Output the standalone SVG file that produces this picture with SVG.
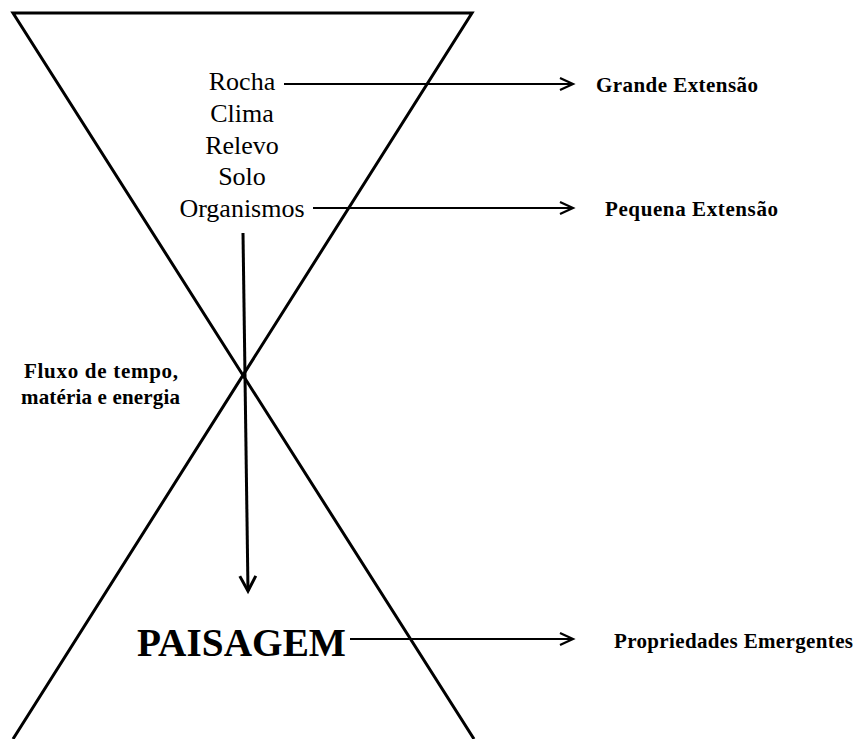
<svg xmlns="http://www.w3.org/2000/svg" width="856" height="739" viewBox="0 0 856 739">
<style>
.tri{stroke:#000;stroke-width:3;fill:none;stroke-linejoin:miter}
.arr{stroke:#000;stroke-width:2;fill:none}
.varr{stroke:#000;stroke-width:3;fill:none}
.t{font-family:"Liberation Serif","Times New Roman",serif;fill:#000}
.lst{font-size:26px;text-anchor:middle}
.lab{font-size:21px;font-weight:bold}
.big{font-size:39px;font-weight:bold}
</style>
<defs>
<marker id="ah" markerUnits="userSpaceOnUse" markerWidth="20" markerHeight="20" refX="14" refY="7" orient="auto" viewBox="0 0 20 14">
<path d="M1,1 L14,7 L1,13" fill="none" stroke="#000" stroke-width="2.2"/>
</marker>
<marker id="ahv" markerUnits="userSpaceOnUse" markerWidth="22" markerHeight="22" refX="16" refY="9" orient="auto" viewBox="0 0 22 18">
<path d="M1,1 L16,9 L1,17" fill="none" stroke="#000" stroke-width="3"/>
</marker>
</defs>
<rect width="856" height="739" fill="#fff"/>
<g id="hourglass">
<polyline class="tri" points="474,739 13,13 472,13 13,739"/>
</g>
<g id="connectors">
<line class="arr" x1="284" y1="84" x2="573" y2="84" marker-end="url(#ah)"/>
<line class="arr" x1="313" y1="208" x2="573" y2="208" marker-end="url(#ah)"/>
<line class="arr" x1="350" y1="639" x2="573" y2="639" marker-end="url(#ah)"/>
<line class="varr" x1="243" y1="233" x2="248" y2="591" marker-end="url(#ahv)"/>
</g>
<g id="factors">
<text class="t lst" x="242" y="90">Rocha</text>
<text class="t lst" x="242" y="122">Clima</text>
<text class="t lst" x="242" y="154">Relevo</text>
<text class="t lst" x="242" y="185">Solo</text>
<text class="t lst" x="242" y="217">Organismos</text>
</g>
<g id="grande">
<text class="t lab" x="596" y="92" textLength="162" lengthAdjust="spacing">Grande Extensão</text>
</g>
<g id="pequena">
<text class="t lab" x="605" y="216" textLength="173" lengthAdjust="spacing">Pequena Extensão</text>
</g>
<g id="fluxo">
<text class="t lab" x="24" y="378" textLength="154" lengthAdjust="spacing">Fluxo de tempo,</text>
<text class="t lab" x="21" y="404" textLength="159" lengthAdjust="spacing">matéria e energia</text>
</g>
<g id="paisagem">
<text class="t big" x="137" y="656" textLength="209" lengthAdjust="spacingAndGlyphs">PAISAGEM</text>
</g>
<g id="propriedades">
<text class="t lab" x="614" y="648" textLength="239" lengthAdjust="spacing">Propriedades Emergentes</text>
</g>
</svg>
